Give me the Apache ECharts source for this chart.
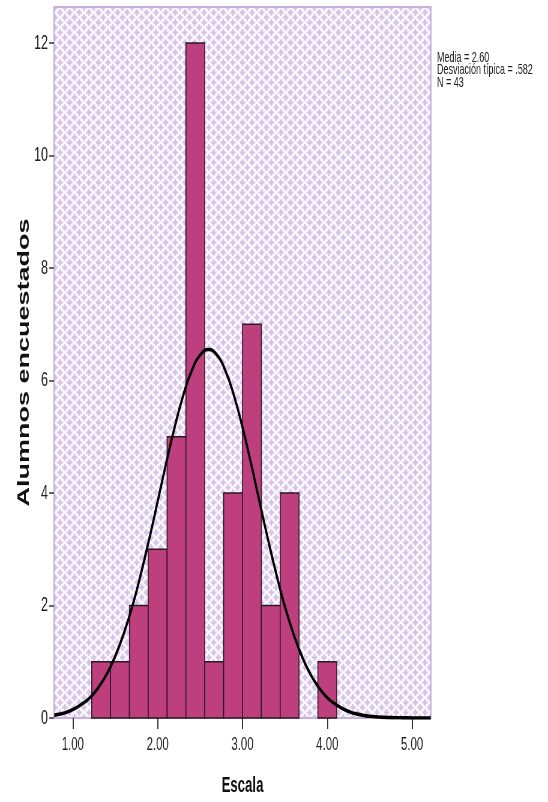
<!DOCTYPE html>
<html>
<head>
<meta charset="utf-8">
<script src="https://cdn.jsdelivr.net/npm/echarts@6/dist/echarts.min.js"></script>
<style>
  html, body { margin: 0; padding: 0; overflow: hidden; background: #ffffff; }
  /* The chart is laid out on a wider canvas and squeezed horizontally,
     which gives the narrow, tall lettering of the SPSS export. */
  #chart { width: 913px; height: 802px; transform: scaleX(0.6002); transform-origin: 0 0; }
</style>
</head>
<body>
<div id="chart"></div>
<script>
// Histogram bins (edges) and student counts per bin
const binEdges = [1.2222, 1.4444, 1.6667, 1.8889, 2.1111, 2.3333, 2.5556, 2.7778,
                  3.0000, 3.2222, 3.4444, 3.6667, 3.8889, 4.1111];
const binCounts = [1, 1, 2, 3, 5, 12, 1, 4, 7, 2, 4, 0, 1];

// Normal curve overlay (x, height)
const curveX = [0.78, 0.8, 0.9, 1.0, 1.1, 1.2, 1.3, 1.4, 1.5, 1.6, 1.7, 1.8, 1.9, 2.0,
                2.1, 2.2, 2.3, 2.4, 2.5, 2.6, 2.7, 2.8, 2.9, 3.0, 3.1, 3.2, 3.3, 3.4,
                3.5, 3.6, 3.7, 3.8, 3.9, 4.0, 4.1, 4.2, 4.3, 4.4, 4.5, 4.6, 4.7, 4.8,
                4.9, 5.0, 5.1, 5.22];
const curveY = [0.05, 0.055, 0.09, 0.15, 0.24, 0.36, 0.54, 0.78, 1.10, 1.50, 1.98, 2.55, 3.18, 3.85,
                4.53, 5.17, 5.73, 6.17, 6.45, 6.55, 6.45, 6.17, 5.73, 5.17, 4.53, 3.85, 3.18, 2.55,
                1.98, 1.50, 1.10, 0.78, 0.54, 0.36, 0.24, 0.15, 0.09, 0.055, 0.03, 0.018, 0.01, 0.005,
                0.003, 0.001, 0.001, 0.0];

// Axis ticks and labels
const xTicks = [1, 2, 3, 4, 5];
const yTicks = [0, 2, 4, 6, 8, 10, 12];
const xRange = [0.7778, 5.2222];
const yRange = [0, 12.64];

const statsLines = ['Media = 2.60', 'Desviación típica = .582', 'N = 43'];
const xTitle = 'Escala';
const yTitle = 'Alumnos encuestados';

// Lavender plus-sign tile for the plot background
function makeTile() {
  const c = document.createElement('canvas');
  c.width = 16; c.height = 10;
  const g = c.getContext('2d');
  g.fillStyle = '#fcfafd';
  g.fillRect(0, 0, 16, 10);
  const lav = '#d5c2e8';
  const light = '#eee5f6';
  function plus(cx, cy) {
    g.fillStyle = light;
    g.fillRect(cx - 5, cy - 1.5, 10, 3);
    g.fillRect(cx - 2, cy - 3.5, 4, 7);
    g.fillStyle = lav;
    g.fillRect(cx - 4, cy - 1, 8, 2);
    g.fillRect(cx - 1.5, cy - 3, 3, 6);
  }
  // staggered lattice, drawn with wrap-around copies
  const centers = [[4, 2.5], [12, 7.5]];
  centers.forEach(([x, y]) => {
    for (let dx = -16; dx <= 16; dx += 16) {
      for (let dy = -10; dy <= 10; dy += 10) plus(x + dx, y + dy);
    }
  });
  return c;
}

const barData = binCounts.map((c, i) => [binEdges[i], binEdges[i + 1], c]);
const curveData = curveX.map((x, i) => [x, curveY[i]]);

const chart = echarts.init(document.getElementById('chart'), null, { renderer: 'canvas' });

chart.setOption({
  animation: false,
  backgroundColor: '#ffffff',
  grid: {
    left: 90, right: 195, top: 7, bottom: 84,
    show: true,
    backgroundColor: { image: makeTile(), repeat: 'repeat' },
    borderColor: '#c7b0dd',
    borderWidth: 2
  },
  xAxis: {
    type: 'value',
    min: xRange[0], max: xRange[1],
    name: xTitle,
    nameLocation: 'middle',
    nameGap: 57,
    nameTextStyle: { fontFamily: 'Liberation Sans', fontWeight: 'bold', fontSize: 22, color: '#111' },
    axisLine: { show: false },
    splitLine: { show: false },
    axisTick: {
      show: true, length: 11, customValues: xTicks,
      lineStyle: { color: '#333', width: 2 }
    },
    axisLabel: {
      customValues: xTicks,
      margin: 17,
      fontFamily: 'Liberation Sans', fontSize: 19, color: '#222',
      formatter: v => v.toFixed(2)
    }
  },
  yAxis: {
    type: 'value',
    min: yRange[0], max: yRange[1],
    name: yTitle,
    nameLocation: 'middle',
    nameRotate: 90,
    nameGap: 36,
    nameMoveOverlap: false,
    nameTextStyle: { fontFamily: 'Liberation Sans', fontWeight: 'bold', fontSize: 27, color: '#111' },
    axisLine: { show: false },
    splitLine: { show: false },
    axisTick: {
      show: true, length: 8, customValues: yTicks,
      lineStyle: { color: '#333', width: 1.5 }
    },
    axisLabel: {
      customValues: yTicks,
      margin: 10,
      fontFamily: 'Liberation Sans', fontSize: 21, color: '#222'
    }
  },
  graphic: [{
    type: 'text',
    left: 728, top: 50,
    style: {
      text: statsLines.join('\n'),
      font: '15px "Liberation Sans"',
      lineHeight: 12.5,
      fill: '#222'
    }
  }],
  series: [
    {
      type: 'custom',
      data: barData,
      encode: { x: [0, 1], y: 2 },
      z: 2,
      renderItem: function (params, api) {
        const count = api.value(2);
        if (!count) return null;
        const topLeft = api.coord([api.value(0), count]);
        const bottomRight = api.coord([api.value(1), 0]);
        return {
          type: 'rect',
          shape: {
            x: topLeft[0], y: topLeft[1],
            width: bottomRight[0] - topLeft[0],
            height: bottomRight[1] - topLeft[1]
          },
          style: { fill: '#bd3f7e', stroke: '#2b1822', lineWidth: 1.6 }
        };
      }
    },
    {
      type: 'line',
      data: curveData,
      smooth: true,
      showSymbol: false,
      z: 3,
      lineStyle: { color: '#000000', width: 3.6 }
    }
  ]
});
</script>
</body>
</html>
